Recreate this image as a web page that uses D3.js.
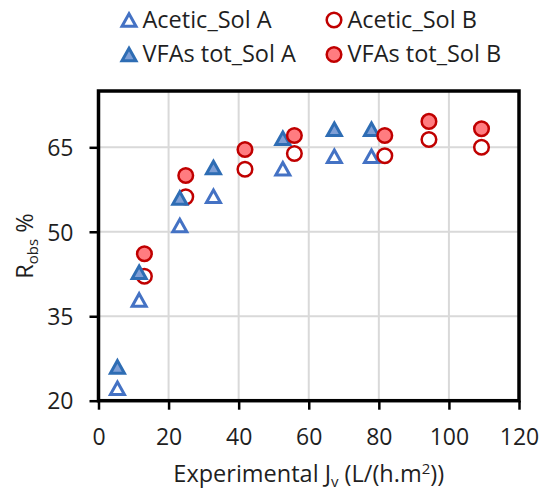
<!DOCTYPE html>
<html><head><meta charset="utf-8">
<script src="https://cdn.jsdelivr.net/npm/d3@7"></script>
<style>body{margin:0;background:#fff}svg{display:block}text{font-family:"Open Sans",sans-serif;fill:#1f1f1f}</style>
</head><body><svg id="c" width="540" height="491"></svg>
<script>
const aceticA_x=[5.4,11.6,23.2,32.8,52.6,67.3,77.9];
const aceticA_y=[22.2,37.9,51.1,56.3,61.2,63.4,63.4];
const vfasA_x=[5.4,11.6,23.2,32.8,52.6,67.3,77.9];
const vfasA_y=[26.0,42.8,56.0,61.4,66.6,68.2,68.2];
const aceticB_x=[13.1,24.9,41.8,55.9,81.7,94.3,109.3];
const aceticB_y=[42.1,56.2,61.1,63.9,63.5,66.4,65.0];
const vfasB_x=[13.1,24.9,41.8,55.9,81.7,94.3,109.3];
const vfasB_y=[46.1,60.0,64.6,67.1,67.1,69.6,68.3];
const xTicks=[0,20,40,60,80,100,120];
const yTicks=[20,35,50,65];
const seriesNames=["Acetic_Sol A","Acetic_Sol B","VFAs tot_Sol A","VFAs tot_Sol B"];

const svg=d3.select("#c");
const L=98.5,R=519,T=91,B=400.7;
const x=d3.scaleLinear().domain([0,120]).range([L,R]);
const y=d3.scaleLinear().domain([20,75]).range([B,T]);

// gridlines
svg.append("g").selectAll("line").data(xTicks.filter(d=>d>0&&d<120)).join("line")
  .attr("x1",d=>x(d)).attr("x2",d=>x(d)).attr("y1",T).attr("y2",B)
  .attr("stroke","#d9d9d9").attr("stroke-width",2);
svg.append("g").selectAll("line").data(yTicks.filter(d=>d>20)).join("line")
  .attr("y1",d=>y(d)).attr("y2",d=>y(d)).attr("x1",L).attr("x2",R)
  .attr("stroke","#d9d9d9").attr("stroke-width",2);

// axes
const gx=svg.append("g").attr("transform",`translate(0,${B})`)
  .call(d3.axisBottom(x).tickValues(xTicks).tickSize(9).tickSizeOuter(0));
gx.select(".domain").remove();
gx.selectAll(".tick line").attr("stroke","#000").attr("stroke-width",2.5);
gx.selectAll(".tick text").attr("y",445-B).attr("dy",0).style("font-size","23px").attr("fill","#1f1f1f");

const gy=svg.append("g").attr("transform",`translate(${L},0)`)
  .call(d3.axisLeft(y).tickValues(yTicks).tickSize(9).tickSizeOuter(0));
gy.select(".domain").remove();
gy.selectAll(".tick line").attr("stroke","#000").attr("stroke-width",2.5);
gy.selectAll(".tick text").attr("x",-25).attr("dy","0.36em").style("font-size","23px").attr("fill","#1f1f1f");

// frame
svg.append("rect").attr("x",L).attr("y",T).attr("width",R-L).attr("height",B-T)
  .attr("fill","none").attr("stroke","#000").attr("stroke-width",3.5);

// markers
const tri=(w,h)=>`M0,${-h/2}L${w/2},${h/2}L${-w/2},${h/2}Z`;
const styles=[
  {shape:"tri",fill:"#fff",stroke:"#4472C4"},
  {shape:"circ",fill:"#fff",stroke:"#C00000"},
  {shape:"tri",fill:"#7F9FD6",stroke:"#2E6DB4"},
  {shape:"circ",fill:"#FF7C80",stroke:"#C00000"}
];
const series=[
  d3.zip(aceticA_x,aceticA_y),
  d3.zip(aceticB_x,aceticB_y),
  d3.zip(vfasA_x,vfasA_y),
  d3.zip(vfasB_x,vfasB_y)
];
function drawMarker(g,st){
  if(st.shape==="tri"){
    g.append("path").attr("d",tri(14,12.5)).attr("fill",st.fill).attr("stroke",st.stroke)
     .attr("stroke-width",3).attr("stroke-linejoin","miter");
  } else {
    g.append("circle").attr("r",7.3).attr("fill",st.fill).attr("stroke",st.stroke).attr("stroke-width",2.5);
  }
}
series.forEach((s,i)=>{
  const g=svg.append("g");
  s.forEach(([a,b])=>{
    drawMarker(g.append("g").attr("transform",`translate(${x(a)},${y(b)})`),styles[i]);
  });
});

// legend
const legPos=[[129,20],[334,20],[129,54.5],[334,54.5]];
seriesNames.forEach((n,i)=>{
  const g=svg.append("g").attr("transform",`translate(${legPos[i][0]},${legPos[i][1]})`);
  drawMarker(g,styles[i]);
  g.append("text").attr("x",13.5).attr("y",7.8).style("font-size","23.5px").text(n);
});

// axis titles
const xt=svg.append("text").attr("x",(L+R)/2).attr("y",481.5).attr("text-anchor","middle").style("font-size","23.5px");
xt.append("tspan").text("Experimental J");
xt.append("tspan").attr("dy",5).style("font-size","15px").text("v");
xt.append("tspan").attr("dy",-5).text(" (L/(h.m");
xt.append("tspan").attr("dy",-8).style("font-size","15px").text("2");
xt.append("tspan").attr("dy",8).text("))");

const yt=svg.append("text").attr("transform",`translate(33,246) rotate(-90)`).attr("text-anchor","middle").style("font-size","23.5px");
yt.append("tspan").text("R");
yt.append("tspan").attr("dy",5).style("font-size","15px").text("obs");
yt.append("tspan").attr("dy",-5).text(" %");
</script></body></html>
